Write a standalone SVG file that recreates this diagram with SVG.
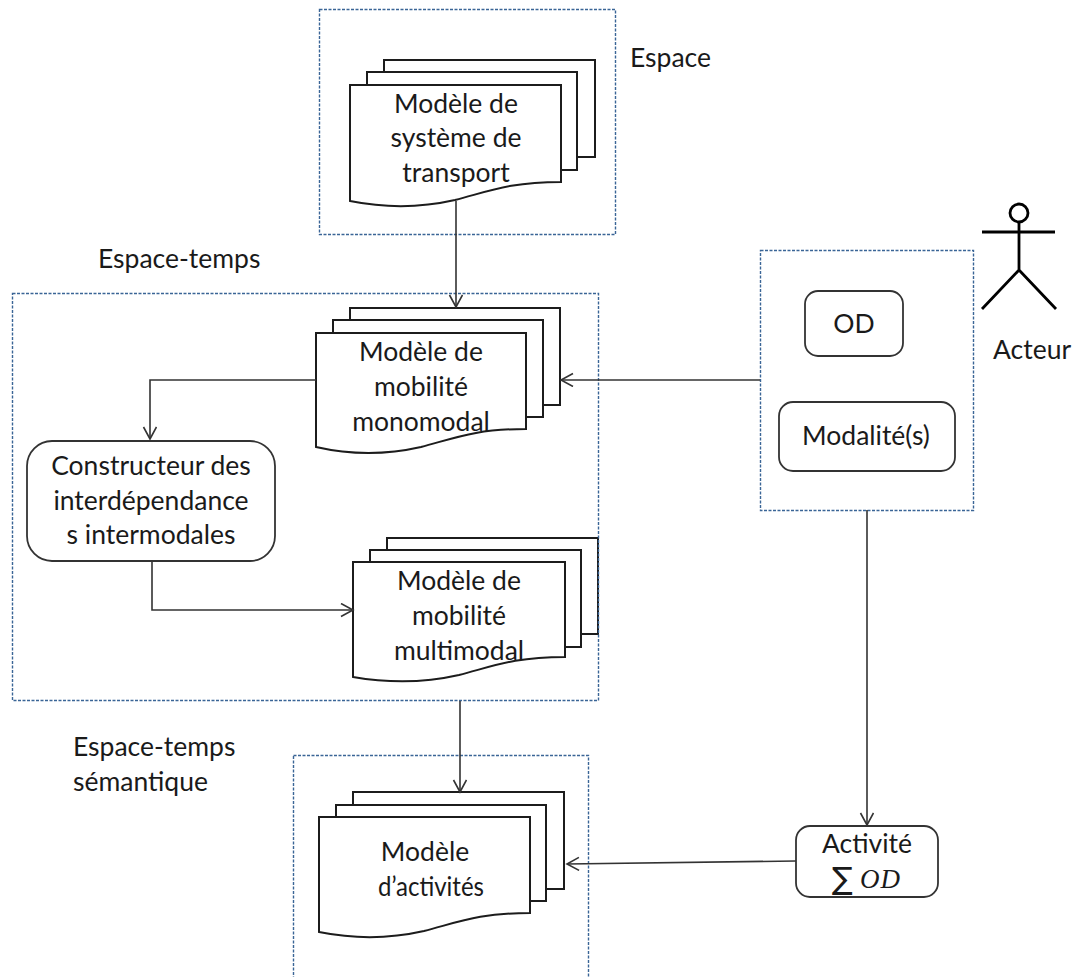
<svg xmlns="http://www.w3.org/2000/svg" width="1077" height="977" viewBox="0 0 1077 977">
<style>
text{font-family:"Lato","Open Sans",sans-serif;font-size:26.5px;fill:#1a1a1a}
.m{text-anchor:middle}
.box{fill:none;stroke:#3a6596;stroke-width:1.4;stroke-dasharray:3 1.500}
.doc{fill:#fff;stroke:#1c1c1c;stroke-width:2}
.rr{fill:#fff;stroke:#333;stroke-width:1.800}
.con{fill:none;stroke:#333;stroke-width:1.600;marker-end:url(#arr)}
.act{fill:none;stroke:#000;stroke-width:2.800}
</style>
<defs>
<marker id="arr" markerUnits="userSpaceOnUse" markerWidth="16" markerHeight="16" refX="13" refY="7" orient="auto"><path d="M1 0.5L13 7L1 13.500" fill="none" stroke="#333" stroke-width="1.600"/></marker>
</defs>
<g id="doc-transport">
<path class="doc" d="M384 60H595V157H384Z"/><path class="doc" d="M367 72H577V170H367Z"/>
<path class="doc" d="M350 85H561V182C510 182 490 191 455 200C420 208 385 208 350 201Z"/>
<text class="m" x="456" y="113">Modèle de</text><text class="m" x="456" y="147">système de</text><text class="m" x="456" y="182">transport</text>
</g>
<g id="doc-monomodal">
<path class="doc" d="M350 308H560V405H350Z"/><path class="doc" d="M333 320H543V417H333Z"/>
<path class="doc" d="M316 333H526V429C475 429 455 438 421 447C386 455 351 455 316 447Z"/>
<text class="m" x="421" y="361">Modèle de</text><text class="m" x="421" y="396">mobilité</text><text class="m" x="421" y="431">monomodal</text>
</g>
<g id="constructeur">
<rect class="rr" x="27" y="441" width="248" height="120" rx="25"/>
<text class="m" x="151" y="475">Constructeur des</text><text class="m" x="151" y="510">interdépendance</text><text class="m" x="151" y="544">s intermodales</text>
</g>
<g id="doc-multimodal">
<path class="doc" d="M387 538H598V634H387Z"/><path class="doc" d="M370 550H581V647H370Z"/>
<path class="doc" d="M353 562H565V657C514 657 494 666 459 675C424 683 388 683 353 677Z"/>
<text class="m" x="459" y="590">Modèle de</text><text class="m" x="459" y="625">mobilité</text><text class="m" x="459" y="660">multimodal</text>
</g>
<g id="doc-activites">
<path class="doc" d="M353 792H564V889H353Z"/><path class="doc" d="M336 805H546V901H336Z"/>
<path class="doc" d="M319 817H530V913C479 913 459 922 424 931C389 939 354 939 319 932Z"/>
<text class="m" x="425" y="861">Modèle</text><text class="m" x="431" y="896" textLength="106" lengthAdjust="spacingAndGlyphs">d’activités</text>
</g>
<g id="od"><rect class="rr" x="805" y="291" width="98" height="65" rx="13"/><text class="m" x="854" y="333">OD</text></g>
<g id="modalites"><rect class="rr" x="779" y="402" width="176" height="69" rx="14"/><text class="m" x="866" y="445">Modalité(s)</text></g>
<g id="activite"><rect class="rr" x="796" y="826" width="142" height="71" rx="14"/>
<text class="m" x="867" y="853">Activité</text>
<text x="832" y="889" style="font-family:'DejaVu Sans',sans-serif;font-size:31px">∑</text>
<text x="860" y="888" style="font-family:'Liberation Serif',serif;font-style:italic;font-size:27px;letter-spacing:1px">OD</text></g>
<g id="acteur">
<circle cx="1019" cy="213" r="9" fill="#fff" stroke="#000" stroke-width="2.800"/>
<path class="act" d="M982 232H1055M1019 222V270M1019 270L982 309M1019 270L1056 309"/>
<text x="993" y="359">Acteur</text>
</g>
<rect id="frame-espace" class="box" x="319.500" y="9.500" width="296" height="225"/>
<rect id="frame-espace-temps" class="box" x="12.500" y="293.500" width="586" height="407"/>
<rect id="frame-semantique" class="box" x="293.500" y="755.500" width="295" height="240"/>
<rect id="frame-acteur" class="box" x="760.500" y="250.500" width="213" height="260"/>
<text id="label-espace" x="630" y="67">Espace</text>
<text id="label-espace-temps" x="98" y="268">Espace-temps</text>
<text id="label-semantique" x="73" y="756">Espace-temps</text>
<text id="label-semantique-2" x="73" y="791">sémantique</text>
<g id="connectors">
<path class="con" d="M456 201V307"/>
<path class="con" d="M316 380H150V439"/>
<path class="con" d="M152 561V610H353"/>
<path class="con" d="M760 380H561"/>
<path class="con" d="M867 510V825"/>
<path class="con" d="M796 861L567 864"/>
<path class="con" d="M460 701V792"/>
</g>
</svg>
